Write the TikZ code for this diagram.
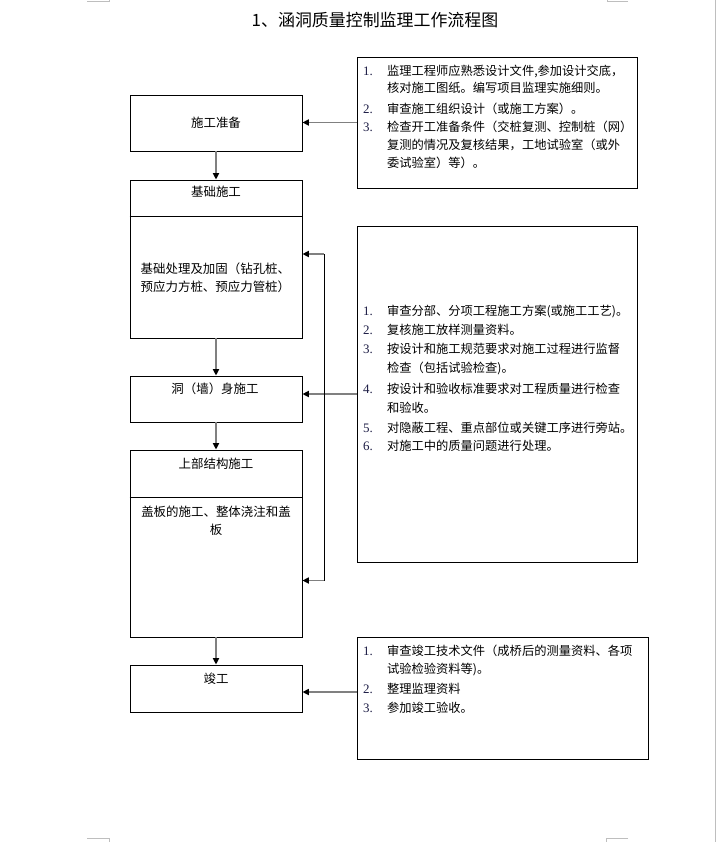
\documentclass[tikz,border=0pt]{standalone}
\usepackage{fontspec}
\setmainfont{Noto Sans CJK SC}
\newfontfamily\numfont{Liberation Serif}
\usetikzlibrary{arrows.meta}
\definecolor{arrgray}{RGB}{128,128,128}
\definecolor{markgray}{RGB}{190,190,190}
\definecolor{numcol}{RGB}{30,30,70}
\begin{document}
\begin{tikzpicture}[x=1bp,y=-1bp,
  box/.style={draw=black, line width=0.8pt, inner sep=0pt},
  ltxt/.style={font=\fontsize{12.5}{14}\selectfont, inner sep=0pt, text height=10pt, text depth=2pt},
  rtxt/.style={font=\fontsize{12.3}{14}\selectfont, inner sep=0pt, text height=10pt, text depth=2pt, anchor=west},
  numtxt/.style={font=\numfont\fontsize{13}{14}\selectfont, text=numcol, inner sep=0pt, text height=10pt, text depth=2pt, anchor=west},
  arr/.style={draw=arrgray, line width=1.6pt, -{Triangle[length=6.5bp,width=6bp,color=black]}},
  brk/.style={draw=black, line width=0.8pt},
  cmark/.style={draw=markgray, line width=0.6pt}]
\useasboundingbox (0,0) rectangle (716,842);
\fill[white] (0,0) rectangle (716,842);
% page marks
\draw[cmark] (87,1.5) -- (109,1.5) -- (109,0);
\draw[cmark] (628,1.5) -- (607,1.5) -- (607,0);
\draw[cmark] (87,838.5) -- (109,838.5) -- (109,842);
\draw[cmark] (628,838.5) -- (606,838.5) -- (606,842);
\draw[cmark] (715.5,0) -- (715.5,842);
% title
\node[font=\fontsize{17}{20}\selectfont, inner sep=0pt] (title) at (375,20) {1、涵洞质量控制监理工作流程图};
% left boxes
\node[box, minimum width=172bp, minimum height=56bp] (prep) at (216,123) {};
\node[box, minimum width=172bp, minimum height=158bp] (found) at (216,259) {};
\node[box, minimum width=172bp, minimum height=46bp] (wall) at (216,399) {};
\node[box, minimum width=172bp, minimum height=187bp] (top) at (216,543.5) {};
\node[box, minimum width=172bp, minimum height=47.5bp] (fin) at (216,688.75) {};
\draw[brk] (found.west |- 0,216) -- (found.east |- 0,216);
\draw[brk] (top.west |- 0,497) -- (top.east |- 0,497);
% left texts
\node[ltxt] (t1) at (216,124) {施工准备};
\node[ltxt] (t2) at (216,193) {基础施工};
\node[ltxt, anchor=west] (t3a) at (140.5,269.5) {基础处理及加固（钻孔桩、};
\node[ltxt, anchor=west] (t3b) at (140.5,287.5) {预应力方桩、预应力管桩）};
\node[ltxt] (t4) at (215,389.5) {洞（墙）身施工};
\node[ltxt] (t5) at (216,465) {上部结构施工};
\node[ltxt] (t6a) at (216,513) {盖板的施工、整体浇注和盖};
\node[ltxt] (t6b) at (216,530.5) {板};
\node[ltxt] (t7) at (216,680) {竣工};
% right boxes
\node[box, minimum width=280bp, minimum height=131bp] (r1) at (497,122.5) {};
\node[box, minimum width=280bp, minimum height=336bp] (r2) at (497,394) {};
\node[box, minimum width=291bp, minimum height=122bp] (r3) at (502.5,698) {};
% box 1 text
\node[numtxt] (a1n) at (363,71.5) {1.};
\node[rtxt] (a1a) at (387,71.5) {监理工程师应熟悉设计文件,参加设计交底，};
\node[rtxt] (a1b) at (387,88.5) {核对施工图纸。编写项目监理实施细则。};
\node[numtxt] (a2n) at (363,109.5) {2.};
\node[rtxt] (a2a) at (387,109.5) {审查施工组织设计（或施工方案）。};
\node[numtxt] (a3n) at (363,127.5) {3.};
\node[rtxt] (a3a) at (387,127.5) {检查开工准备条件（交桩复测、控制桩（网）};
\node[rtxt] (a3b) at (387,145.5) {复测的情况及复核结果，工地试验室（或外};
\node[rtxt] (a3c) at (387,164) {委试验室）等）。};
% box 2 text
\node[numtxt] (b1n) at (363,312) {1.};
\node[rtxt] (b1a) at (387,312) {审查分部、分项工程施工方案(或施工工艺)。};
\node[numtxt] (b2n) at (363,331) {2.};
\node[rtxt] (b2a) at (387,331) {复核施工放样测量资料。};
\node[numtxt] (b3n) at (363,350) {3.};
\node[rtxt] (b3a) at (387,350) {按设计和施工规范要求对施工过程进行监督};
\node[rtxt] (b3b) at (387,368.5) {检查（包括试验检查)。};
\node[numtxt] (b4n) at (363,390) {4.};
\node[rtxt] (b4a) at (387,390) {按设计和验收标准要求对工程质量进行检查};
\node[rtxt] (b4b) at (387,408.5) {和验收。};
\node[numtxt] (b5n) at (363,428.5) {5.};
\node[rtxt] (b5a) at (387,428.5) {对隐蔽工程、重点部位或关键工序进行旁站。};
\node[numtxt] (b6n) at (363,447) {6.};
\node[rtxt] (b6a) at (387,447) {对施工中的质量问题进行处理。};
% box 3 text
\node[numtxt] (c1n) at (363,651.5) {1.};
\node[rtxt] (c1a) at (387,651.5) {审查竣工技术文件（成桥后的测量资料、各项};
\node[rtxt] (c1b) at (387,670) {试验检验资料等)。};
\node[numtxt] (c2n) at (363,690) {2.};
\node[rtxt] (c2a) at (387,690) {整理监理资料};
\node[numtxt] (c3n) at (363,709) {3.};
\node[rtxt] (c3a) at (387,709) {参加竣工验收。};
% vertical flow arrows
\draw[arr] (prep.south) -- (found.north);
\draw[arr] (found.south) -- (wall.north);
\draw[arr] (wall.south) -- (top.north);
\draw[arr] (top.south) -- (fin.north);
% side arrows
\draw[arr] (r1.west) -- (r1.west -| prep.east);
\draw[arr] (r2.west) -- (r2.west -| wall.east);
\coordinate (c3) at (357,692);
\draw[arr] (c3) -- (c3 -| fin.east);
% bracket
\coordinate (bt) at (324,254);
\coordinate (bb) at (324,580.5);
\draw[brk] (bt) -- (bb);
\draw[arr] (bt) -- (bt -| found.east);
\draw[arr] (bb) -- (bb -| top.east);
\end{tikzpicture}
\end{document}
